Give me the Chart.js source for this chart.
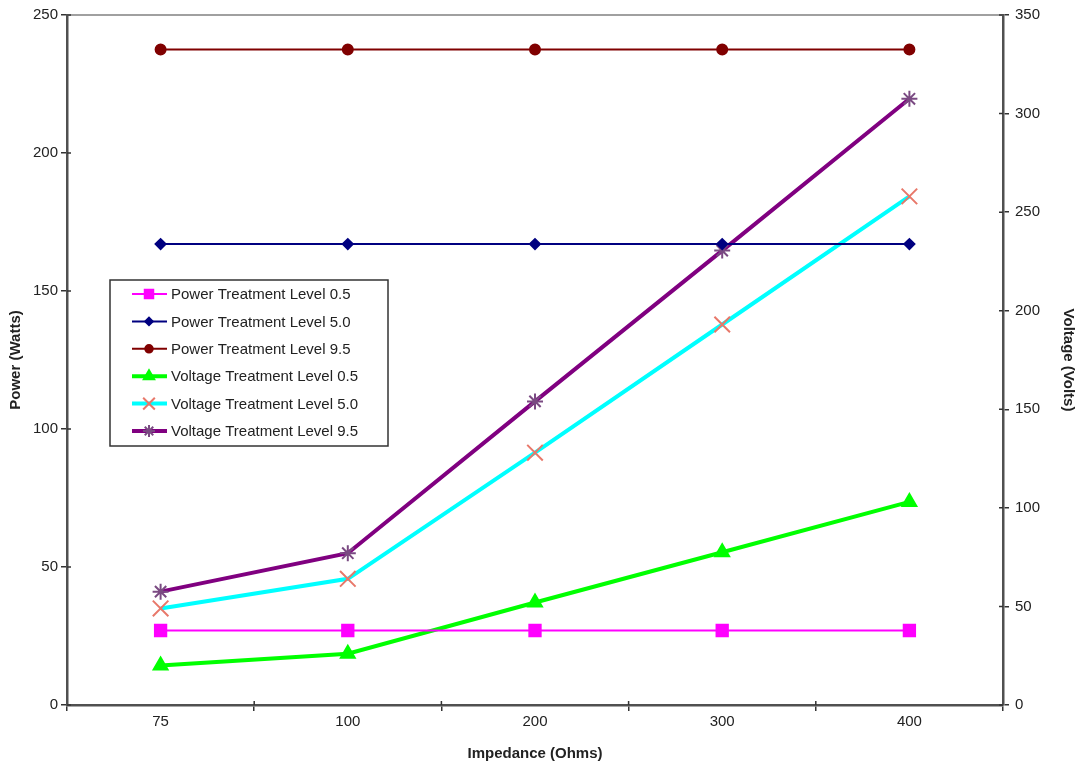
<!DOCTYPE html>
<html>
<head>
<meta charset="utf-8">
<script src="https://cdn.jsdelivr.net/npm/chart.js@4.4.1/dist/chart.umd.min.js"></script>
<style>
  html, body { margin: 0; padding: 0; background: #fff; }
  #wrap { width: 1082px; height: 767px; position: relative; }
</style>
</head>
<body>
<div id="wrap"><canvas id="grafico"></canvas></div>
<script>
// dados
const impedancias = ['75', '100', '200', '300', '400'];
const potencia05 = [27, 27, 27, 27, 27];
const potencia50 = [167, 167, 167, 167, 167];
const potencia95 = [237.5, 237.5, 237.5, 237.5, 237.5];
const tensao05 = [20, 26, 52, 77.5, 103];
const tensao50 = [49, 64, 128, 193, 258];
const tensao95 = [57.5, 77, 154, 230.5, 307.5];

const fonte = "'Liberation Sans', Arial, sans-serif";

// legenda desenhada dentro da area do grafico + borda de cima + ticks internos
const legendaPlugin = {
    id: 'legendaInterna',
    afterDraw(chart) {
        const ctx = chart.ctx;
        const area = chart.chartArea;
        ctx.save();
        // borda superior cinza
        ctx.strokeStyle = '#a0a0a0';
        ctx.lineWidth = 2;
        ctx.beginPath();
        ctx.moveTo(area.left, area.top);
        ctx.lineTo(area.right, area.top);
        ctx.stroke();

        // pedaco interno dos ticks
        ctx.strokeStyle = '#333';
        ctx.lineWidth = 1.5;
        ctx.beginPath();
        const sy = chart.scales.y, sy1 = chart.scales.y1, sx = chart.scales.x;
        sy.ticks.forEach((t, i) => {
            const py = sy.getPixelForTick(i);
            ctx.moveTo(area.left, py); ctx.lineTo(area.left + 4, py);
        });
        sy1.ticks.forEach((t, i) => {
            const py = sy1.getPixelForTick(i);
            ctx.moveTo(area.right, py); ctx.lineTo(area.right - 4, py);
        });
        for (let i = 1; i < sx.ticks.length; i++) {
            const px = (sx.getPixelForTick(i - 1) + sx.getPixelForTick(i)) / 2;
            ctx.moveTo(px, area.bottom); ctx.lineTo(px, area.bottom - 4);
        }
        ctx.stroke();

        const x0 = 110, y0 = 280, w = 278, h = 166;
        ctx.fillStyle = '#fff';
        ctx.fillRect(x0, y0, w, h);
        ctx.strokeStyle = '#333';
        ctx.lineWidth = 1.5;
        ctx.strokeRect(x0, y0, w, h);

        chart.data.datasets.forEach((ds, i) => {
            const y = y0 + 14 + i * 27.4;
            ctx.strokeStyle = ds.borderColor;
            ctx.lineWidth = ds.borderWidth;
            ctx.beginPath();
            ctx.moveTo(132, y);
            ctx.lineTo(167, y);
            ctx.stroke();
            ctx.fillStyle = ds.pointBackgroundColor;
            ctx.strokeStyle = ds.pointBorderColor;
            ctx.lineWidth = ds.pointBorderWidth;
            Chart.helpers.drawPoint(ctx, {
                pointStyle: ds.pointStyle,
                radius: ds.pointRadius * 0.75,
                rotation: 0,
                borderWidth: ds.pointBorderWidth
            }, 149, y);
            ctx.fillStyle = '#222';
            ctx.font = '15px ' + fonte;
            ctx.textBaseline = 'middle';
            ctx.textAlign = 'left';
            ctx.fillText(ds.label, 171, y + 1);
        });
        ctx.restore();
    }
};

function serie(label, data, cor, eixo, largura, estilo, raio, corPonto) {
    return {
        label: label,
        data: data,
        yAxisID: eixo,
        borderColor: cor,
        backgroundColor: cor,
        borderWidth: largura,
        pointStyle: estilo,
        pointRadius: raio,
        pointHoverRadius: raio,
        pointBackgroundColor: corPonto || cor,
        pointBorderColor: corPonto || cor,
        pointBorderWidth: 2,
        tension: 0
    };
}

const ctx = document.getElementById('grafico').getContext('2d');
new Chart(ctx, {
    type: 'line',
    data: {
        labels: impedancias,
        datasets: [
            serie('Power Treatment Level 0.5', potencia05, '#ff00ff', 'y', 2, 'rect', 8),
            serie('Power Treatment Level 5.0', potencia50, '#000080', 'y', 2, 'rectRot', 5),
            serie('Power Treatment Level 9.5', potencia95, '#800000', 'y', 2, 'circle', 5),
            serie('Voltage Treatment Level 0.5', tensao05, '#00ff00', 'y1', 4, 'triangle', 8),
            serie('Voltage Treatment Level 5.0', tensao50, '#00ffff', 'y1', 4, 'crossRot', 11, '#e8786a'),
            serie('Voltage Treatment Level 9.5', tensao95, '#800080', 'y1', 4, 'star', 8, '#7a4a82')
        ]
    },
    options: {
        responsive: true,
        maintainAspectRatio: false,
        animation: false,
        layout: { padding: { top: 15, left: 0, right: 0, bottom: 0 } },
        plugins: {
            legend: { display: false },
            tooltip: { enabled: false }
        },
        scales: {
            x: {
                offset: true,
                afterFit: (s) => { s.height = 62; },
                grid: { drawOnChartArea: false, tickLength: 6, color: '#333', lineWidth: 1.5, offset: true },
                border: { color: '#505050', width: 2.5 },
                ticks: { color: '#222', font: { size: 15, family: fonte }, padding: 2 },
                title: {
                    display: true, text: 'Impedance (Ohms)', color: '#222',
                    font: { size: 15, weight: 'bold', family: fonte }, padding: { top: 0, bottom: 4 }
                }
            },
            y: {
                position: 'left',
                min: 0, max: 250,
                afterFit: (s) => { s.width = 67; },
                grid: { drawOnChartArea: false, tickLength: 6, color: '#333', lineWidth: 1.5 },
                border: { color: '#505050', width: 2.5 },
                ticks: { stepSize: 50, color: '#222', font: { size: 15, family: fonte }, padding: 3 },
                title: {
                    display: true, text: 'Power (Watts)', color: '#222',
                    font: { size: 15, weight: 'bold', family: fonte }, padding: { top: 7, bottom: 0 }
                }
            },
            y1: {
                position: 'right',
                min: 0, max: 350,
                afterFit: (s) => { s.width = 79; },
                grid: { drawOnChartArea: false, tickLength: 6, color: '#333', lineWidth: 1.5 },
                border: { color: '#505050', width: 2.5 },
                ticks: { stepSize: 50, color: '#222', font: { size: 15, family: fonte }, padding: 6 },
                title: {
                    display: true, text: 'Voltage (Volts)', color: '#222',
                    font: { size: 15, weight: 'bold', family: fonte }, padding: { top: 5, bottom: 0 }
                }
            }
        }
    },
    plugins: [legendaPlugin]
});
</script>
</body>
</html>
